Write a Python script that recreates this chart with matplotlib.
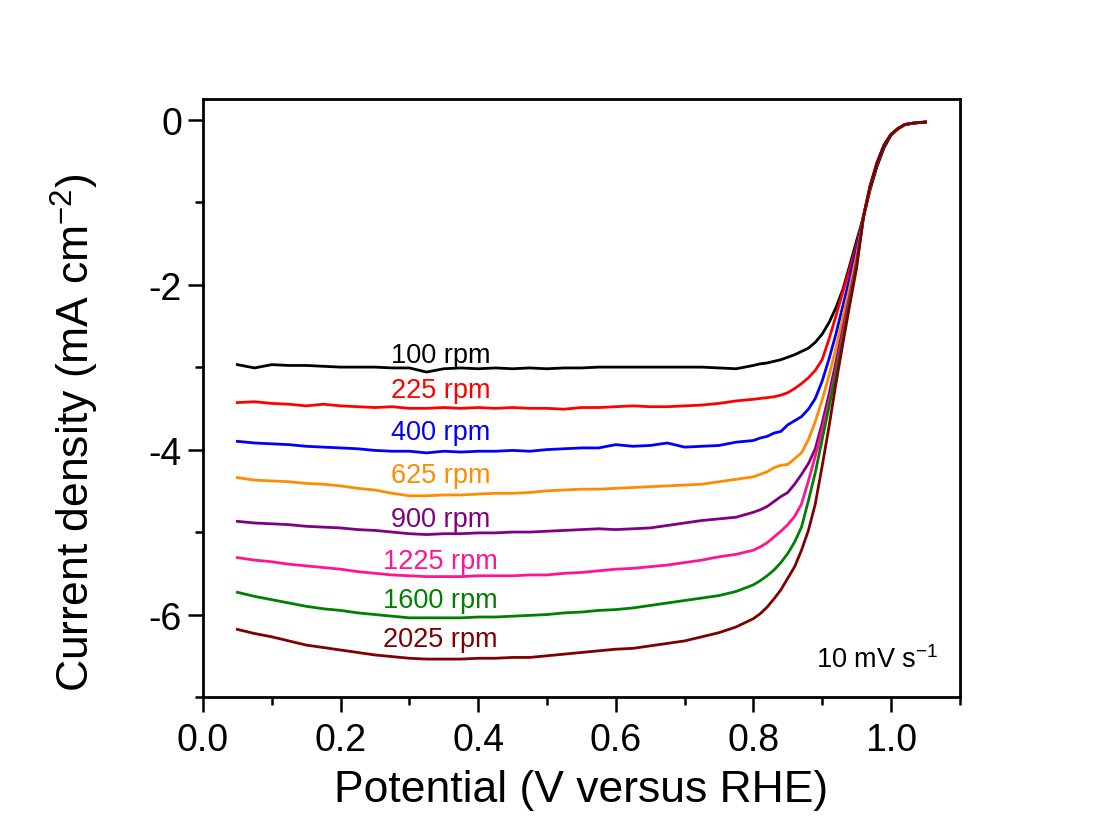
import matplotlib
matplotlib.use('Agg')
import matplotlib.pyplot as plt
from matplotlib.ticker import MultipleLocator

plt.rcParams['font.family'] = ['Liberation Sans', 'DejaVu Sans']
plt.rcParams['axes.unicode_minus'] = False

# potential grid (V vs RHE), shared by all curves
potential = [0.050, 0.075, 0.100, 0.125, 0.150, 0.175, 0.200, 0.225, 0.250, 0.275,
             0.300, 0.325, 0.350, 0.375, 0.400, 0.425, 0.450, 0.475, 0.500, 0.525,
             0.550, 0.575, 0.600, 0.625, 0.650, 0.675, 0.700, 0.725, 0.750, 0.775,
             0.800, 0.810, 0.820, 0.830, 0.840, 0.850, 0.860, 0.870, 0.880, 0.890,
             0.900, 0.910, 0.920, 0.930, 0.940, 0.950, 0.960, 0.970, 0.980, 0.990,
             1.000, 1.010, 1.020, 1.030, 1.040, 1.050]

# current density (mA cm-2)
j_100 = [-2.97, -3.01, -2.97, -2.98, -2.98, -2.99, -3.00, -3.00, -3.00, -3.01,
         -3.01, -3.06, -3.02, -3.01, -3.02, -3.01, -3.02, -3.01, -3.02, -3.01,
         -3.01, -3.00, -3.00, -3.00, -3.00, -3.00, -3.00, -3.00, -3.01, -3.02,
         -2.98, -2.96, -2.95, -2.93, -2.91, -2.88, -2.85, -2.81, -2.77, -2.70,
         -2.60, -2.46, -2.28, -2.06, -1.77, -1.47, -1.18, -0.84, -0.56, -0.34,
         -0.19, -0.11, -0.06, -0.045, -0.035, -0.03]
j_225 = [-3.43, -3.42, -3.44, -3.45, -3.47, -3.45, -3.47, -3.48, -3.49, -3.48,
         -3.50, -3.50, -3.49, -3.50, -3.49, -3.50, -3.49, -3.50, -3.50, -3.51,
         -3.49, -3.49, -3.48, -3.47, -3.48, -3.48, -3.47, -3.46, -3.44, -3.41,
         -3.39, -3.38, -3.37, -3.36, -3.34, -3.31, -3.26, -3.20, -3.13, -3.04,
         -2.91, -2.66, -2.38, -2.09, -1.81, -1.52, -1.17, -0.80, -0.52, -0.31,
         -0.18, -0.11, -0.06, -0.045, -0.035, -0.03]
j_400 = [-3.90, -3.92, -3.93, -3.94, -3.96, -3.97, -3.98, -3.99, -4.01, -4.02,
         -4.02, -4.04, -4.02, -4.03, -4.02, -4.02, -4.01, -4.02, -4.00, -3.99,
         -3.98, -3.98, -3.94, -3.96, -3.95, -3.92, -3.97, -3.96, -3.95, -3.91,
         -3.89, -3.86, -3.84, -3.80, -3.78, -3.70, -3.65, -3.60, -3.51, -3.38,
         -3.17, -2.90, -2.60, -2.26, -1.92, -1.57, -1.17, -0.80, -0.52, -0.31,
         -0.18, -0.11, -0.06, -0.045, -0.035, -0.03]
j_625 = [-4.34, -4.37, -4.38, -4.39, -4.41, -4.42, -4.44, -4.47, -4.49, -4.53,
         -4.56, -4.56, -4.55, -4.55, -4.54, -4.53, -4.53, -4.52, -4.50, -4.49,
         -4.48, -4.48, -4.47, -4.46, -4.45, -4.44, -4.43, -4.42, -4.39, -4.36,
         -4.33, -4.30, -4.27, -4.22, -4.19, -4.18, -4.11, -4.04, -3.88, -3.66,
         -3.40, -3.10, -2.77, -2.40, -2.04, -1.65, -1.18, -0.80, -0.52, -0.31,
         -0.18, -0.11, -0.06, -0.045, -0.035, -0.03]
j_900 = [-4.87, -4.89, -4.90, -4.91, -4.93, -4.94, -4.95, -4.97, -4.98, -5.00,
         -5.02, -5.03, -5.02, -5.02, -5.01, -5.01, -5.00, -5.00, -4.99, -4.98,
         -4.97, -4.96, -4.97, -4.96, -4.95, -4.92, -4.89, -4.86, -4.84, -4.82,
         -4.76, -4.73, -4.69, -4.63, -4.57, -4.52, -4.42, -4.30, -4.17, -3.99,
         -3.68, -3.33, -2.94, -2.54, -2.14, -1.73, -1.18, -0.80, -0.52, -0.31,
         -0.18, -0.11, -0.06, -0.045, -0.035, -0.03]
j_1225 = [-5.31, -5.34, -5.36, -5.39, -5.41, -5.43, -5.45, -5.48, -5.50, -5.52,
          -5.53, -5.54, -5.54, -5.54, -5.53, -5.53, -5.53, -5.52, -5.52, -5.50,
          -5.49, -5.47, -5.45, -5.44, -5.42, -5.40, -5.37, -5.34, -5.30, -5.27,
          -5.22, -5.18, -5.13, -5.06, -4.99, -4.91, -4.81, -4.66, -4.38, -4.08,
          -3.76, -3.42, -3.03, -2.60, -2.18, -1.75, -1.18, -0.80, -0.52, -0.31,
          -0.18, -0.11, -0.06, -0.045, -0.035, -0.03]
j_1600 = [-5.73, -5.78, -5.82, -5.86, -5.90, -5.93, -5.95, -5.98, -6.00, -6.02,
          -6.04, -6.04, -6.04, -6.04, -6.03, -6.03, -6.02, -6.01, -6.00, -5.98,
          -5.97, -5.95, -5.94, -5.92, -5.89, -5.86, -5.83, -5.80, -5.77, -5.72,
          -5.64, -5.59, -5.53, -5.46, -5.37, -5.26, -5.12, -4.94, -4.62, -4.28,
          -3.88, -3.48, -3.08, -2.65, -2.21, -1.77, -1.18, -0.80, -0.52, -0.31,
          -0.18, -0.11, -0.06, -0.045, -0.035, -0.03]
j_2025 = [-6.18, -6.23, -6.27, -6.32, -6.37, -6.40, -6.43, -6.46, -6.49, -6.51,
          -6.53, -6.54, -6.54, -6.54, -6.53, -6.53, -6.52, -6.52, -6.50, -6.48,
          -6.46, -6.44, -6.42, -6.41, -6.38, -6.35, -6.32, -6.27, -6.22, -6.15,
          -6.05, -5.99, -5.91, -5.81, -5.70, -5.56, -5.42, -5.22, -4.98, -4.66,
          -4.20, -3.72, -3.20, -2.72, -2.25, -1.80, -1.18, -0.80, -0.52, -0.31,
          -0.18, -0.11, -0.06, -0.045, -0.035, -0.03]

curves = [j_100, j_225, j_400, j_625, j_900, j_1225, j_1600, j_2025]
labels = ['100 rpm', '225 rpm', '400 rpm', '625 rpm', '900 rpm', '1225 rpm', '1600 rpm', '2025 rpm']
colors = ['#000000', '#ff0000', '#0000ff', '#ff8c00', '#800080', '#ff1493', '#008000', '#800000']
label_y = [-2.85, -3.28, -3.79, -4.31, -4.84, -5.35, -5.82, -6.30]

fig = plt.figure(figsize=(11, 8.29), dpi=100)
ax = fig.add_axes([0.1845, 0.158, 0.688, 0.7213])

for j, lab, c, ly in zip(curves, labels, colors, label_y):
    ax.plot(potential, j, color=c, lw=2.0)
    ax.text(0.345, ly, lab, color=c, fontsize=19.5, ha='center', va='center')

ax.text(0.972, 0.064, r'10 mV s$^{\mathregular{-1}}$', transform=ax.transAxes,
        fontsize=19.5, ha='right', va='center')

ax.set_xlim(0, 1.1)
ax.set_ylim(-7, 0.25)
ax.xaxis.set_major_locator(MultipleLocator(0.2))
ax.xaxis.set_minor_locator(MultipleLocator(0.1))
ax.yaxis.set_major_locator(MultipleLocator(2))
ax.yaxis.set_minor_locator(MultipleLocator(1))
ax.xaxis.set_major_formatter(plt.FormatStrFormatter('%.1f'))
ax.yaxis.set_major_formatter(plt.FormatStrFormatter('%d'))

ax.tick_params(which='major', direction='out', length=11, width=1.8, labelsize=27)
ax.tick_params(axis='x', which='major', pad=7)
ax.tick_params(axis='y', which='major', pad=4)
ax.tick_params(which='minor', direction='out', length=5.5, width=1.8)
for s in ax.spines.values():
    s.set_linewidth(2.0)

ax.set_xlabel('Potential (V versus RHE)', fontsize=32)
ax.set_ylabel(r'Current density (mA cm$^{\mathregular{-2}}$)', fontsize=32)
ax.xaxis.set_label_coords(0.5, -0.12)
ax.yaxis.set_label_coords(-0.135, 0.443)

plt.savefig('out.png', dpi=100)
